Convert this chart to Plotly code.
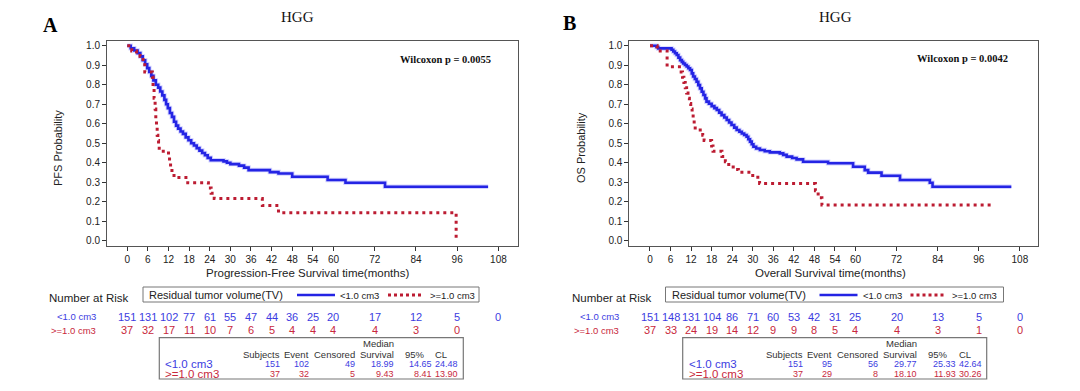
import plotly.graph_objects as go

W, H = 1080, 391

# ---------------- data ----------------
# PFS, residual TV < 1.0 cm3
pfs_lo_t = [0, 1.0, 2.0, 3.0, 3.8, 4.5, 5.2, 5.8, 6.4, 7.0, 7.6, 8.3, 9.0, 9.6, 10.2, 10.8, 11.3, 11.8,
            12.4, 13.0, 13.6, 14.2, 14.8, 15.5, 16.2, 17.0, 17.8, 18.6, 19.4, 20.2, 21.0, 21.8, 22.6,
            23.4, 24.3, 28.0, 29.0, 30.0, 32.5, 34.0, 35.3, 41.5, 44.0, 48.0, 58.3, 63.5, 75.0, 105.0]
pfs_lo_s = [1.0, 0.987, 0.975, 0.962, 0.945, 0.925, 0.905, 0.885, 0.865, 0.845, 0.822, 0.800, 0.785,
            0.765, 0.745, 0.722, 0.700, 0.680, 0.655, 0.635, 0.610, 0.590, 0.575, 0.560, 0.548, 0.530,
            0.515, 0.500, 0.488, 0.475, 0.462, 0.450, 0.438, 0.425, 0.413, 0.407, 0.400, 0.393, 0.385,
            0.375, 0.362, 0.352, 0.345, 0.328, 0.311, 0.297, 0.277, 0.277]
# PFS, residual TV >= 1.0 cm3
pfs_hi_t = [0, 1.3, 2.7, 3.7, 4.6, 5.1, 7.3, 7.5, 7.8, 8.1, 8.3, 8.5, 8.7, 8.9, 9.1, 9.3, 12.0, 12.3,
            12.6, 13.0, 13.6, 17.6, 23.6, 24.4, 25.3, 39.3, 44.0, 95.7]
pfs_hi_s = [1.0, 0.973, 0.959, 0.946, 0.919, 0.865, 0.838, 0.784, 0.730, 0.676, 0.622, 0.595, 0.541,
            0.514, 0.486, 0.459, 0.432, 0.405, 0.378, 0.351, 0.324, 0.297, 0.270, 0.243, 0.216, 0.180,
            0.144, 0.0]
# OS, residual TV < 1.0 cm3
os_lo_t = [0, 1.9, 2.4, 6.3, 6.8, 7.3, 7.8, 8.3, 8.8, 9.3, 9.7, 10.2, 10.7, 11.2, 11.7, 12.2, 12.6, 13.1,
           13.6, 14.1, 14.6, 15.1, 15.6, 16.1, 16.5, 17.2, 18.0, 18.8, 19.5, 20.2, 20.9, 21.7, 22.4, 23.1,
           23.8, 24.6, 25.3, 26.1, 26.8, 27.5, 28.2, 28.7, 29.2, 29.7, 30.2, 31.0, 32.1, 33.5, 35.0, 37.9,
           38.9, 39.9, 41.5, 42.8, 44.7, 52.0, 59.3, 62.7, 63.7, 67.6, 73.0, 81.7, 82.5, 105.5]
os_lo_s = [1.0, 0.993, 0.986, 0.979, 0.970, 0.961, 0.952, 0.939, 0.926, 0.917, 0.909, 0.901, 0.893, 0.884,
           0.875, 0.858, 0.842, 0.829, 0.815, 0.798, 0.781, 0.764, 0.747, 0.730, 0.713, 0.702, 0.690, 0.680,
           0.670, 0.657, 0.644, 0.632, 0.619, 0.606, 0.593, 0.580, 0.568, 0.559, 0.550, 0.542, 0.533, 0.520,
           0.508, 0.495, 0.482, 0.473, 0.465, 0.459, 0.453, 0.448, 0.440, 0.431, 0.424, 0.417, 0.405, 0.397,
           0.379, 0.362, 0.349, 0.333, 0.311, 0.297, 0.277, 0.277]
# OS, residual TV >= 1.0 cm3
os_hi_t = [0, 2.1, 5.0, 9.1, 9.5, 9.9, 10.3, 10.7, 11.1, 11.5, 11.9, 12.3, 12.6, 12.9, 13.2, 15.4, 15.8,
           18.0, 18.4, 21.0, 22.0, 23.0, 24.3, 25.8, 30.0, 32.0, 48.3, 49.1, 50.2, 100.2]
os_hi_s = [1.0, 0.973, 0.892, 0.865, 0.838, 0.811, 0.784, 0.757, 0.730, 0.703, 0.676, 0.649, 0.622, 0.595,
           0.568, 0.541, 0.514, 0.486, 0.459, 0.432, 0.405, 0.378, 0.365, 0.351, 0.325, 0.293, 0.256,
           0.220, 0.183, 0.183]

x_ticks = [0, 6, 12, 18, 24, 30, 36, 42, 48, 54, 60, 72, 84, 96, 108]
y_ticks = [0.0, 0.1, 0.2, 0.3, 0.4, 0.5, 0.6, 0.7, 0.8, 0.9, 1.0]

risk_times = [0, 6, 12, 18, 24, 30, 36, 42, 48, 54, 60, 72, 84, 96, 108]
pfs_risk_lo = [151, 131, 102, 77, 61, 55, 47, 44, 36, 25, 20, 17, 12, 5, 0]
pfs_risk_hi = [37, 32, 17, 11, 10, 7, 6, 5, 4, 4, 4, 4, 3, 0]
os_risk_lo = [151, 148, 131, 104, 86, 71, 60, 53, 42, 31, 25, 20, 13, 5, 0]
os_risk_hi = [37, 33, 24, 19, 14, 12, 9, 9, 8, 5, 4, 4, 3, 1, 0]

group_labels = ["<1.0 cm3", ">=1.0 cm3"]
stat_headers = ["Subjects", "Event", "Censored", "Survival"]
pfs_stats = [["151", "102", "49", "18.99", "14.65", "24.48"],
             ["37", "32", "5", "9.43", "8.41", "13.90"]]
os_stats = [["151", "95", "56", "29.77", "25.33", "42.64"],
            ["37", "29", "8", "18.10", "11.93", "30.26"]]

panel_letters = ["A", "B"]
panel_titles = ["HGG", "HGG"]
p_texts = ["Wilcoxon p = 0.0055", "Wilcoxon p = 0.0042"]
x_titles = ["Progression-Free Survival time(months)", "Overall Survival time(months)"]
y_titles = ["PFS Probability", "OS Probability"]

# ---------------- styling ----------------
BLUE = "rgb(36,36,228)"
HALO = "rgba(130,130,255,0.35)"
RED = "rgb(188,28,50)"
TBLUE = "rgb(60,60,225)"
TRED = "rgb(200,40,60)"
SANS = "Liberation Sans, Arial, sans-serif"
SERIF = "Liberation Serif, Times New Roman, serif"


def fx(px):
    return px / W


def fy(py):
    return 1 - py / H


fig = go.Figure()

curves = [(pfs_lo_t, pfs_lo_s, pfs_hi_t, pfs_hi_s), (os_lo_t, os_lo_s, os_hi_t, os_hi_s)]
for i, (lt, ls, ht, hs) in enumerate(curves):
    xa = "x" if i == 0 else "x2"
    ya = "y" if i == 0 else "y2"
    fig.add_trace(go.Scatter(x=lt, y=ls, mode="lines", line=dict(color=HALO, width=4.5, shape="hv"),
                             xaxis=xa, yaxis=ya, showlegend=False, hoverinfo="skip"))
    fig.add_trace(go.Scatter(x=lt, y=ls, mode="lines", line=dict(color=BLUE, width=2.6, shape="hv"),
                             xaxis=xa, yaxis=ya, showlegend=False, name=group_labels[0]))
    fig.add_trace(go.Scatter(x=ht, y=hs, mode="lines",
                             line=dict(color=RED, width=3, shape="hv", dash="3px,4px"),
                             xaxis=xa, yaxis=ya, showlegend=False, name=group_labels[1]))

axis_common = dict(showgrid=False, zeroline=False, showline=True, linecolor="#555", linewidth=1,
                   mirror=True, ticks="outside", ticklen=4, tickcolor="#333",
                   tickfont=dict(family=SANS, size=10, color="#222"))

fig.update_layout(
    width=W, height=H, autosize=False,
    margin=dict(l=0, r=0, t=0, b=0),
    paper_bgcolor="white", plot_bgcolor="white",
    xaxis=dict(domain=[fx(107), fx(518)], range=[-5.9, 113.7], tickvals=x_ticks, anchor="y", **axis_common),
    yaxis=dict(domain=[fy(246), fy(41)], range=[-0.027, 1.024], tickvals=y_ticks, tickformat=".1f",
               anchor="x", **axis_common),
    xaxis2=dict(domain=[fx(629.3), fx(1037.7)], range=[-6.04, 113.2], tickvals=x_ticks, anchor="y2",
                **axis_common),
    yaxis2=dict(domain=[fy(246), fy(41)], range=[-0.027, 1.024], tickvals=y_ticks, tickformat=".1f",
                anchor="x2", **axis_common),
)

anns = []
shapes = []


def ann(text, x, y, size, color="#111", xanchor="center", family=SANS, xref="paper", textangle=0):
    anns.append(dict(text=text, x=x, y=y, xref=xref, yref="paper", xanchor=xanchor, yanchor="middle",
                     showarrow=False, textangle=textangle,
                     font=dict(family=family, size=size, color=color)))


risks = [(pfs_risk_lo, pfs_risk_hi), (os_risk_lo, os_risk_hi)]
stats = [pfs_stats, os_stats]
offs = [0, 522.5]
for i in range(2):
    o = offs[i]
    xref = "x" if i == 0 else "x2"
    # titles
    ann("<b>" + panel_letters[i] + "</b>", fx(50 + 519 * i), fy(25 - 1.5 * i), 20, "#000", family=SERIF)
    ann(panel_titles[i], fx(297 + 538 * i), fy(17), 15, "#111", family=SERIF)
    ann("<b>" + p_texts[i] + "</b>", fx(493 + 517 * i), fy(60 - 2 * i), 10.5, "#111", "right", SERIF)
    ann(x_titles[i], fx(307 + 523 * i), fy(273), 11.5, "#222")
    ann(y_titles[i], fx(58 + 523 * i), fy(148), 11, "#222", textangle=-90)
    # number at risk
    ann("Number at Risk", fx(47 + o), fy(298.3), 11.5, "#222", "left")
    shapes.append(dict(type="rect", xref="paper", yref="paper", x0=fx(143 + o), x1=fx(479 + o + 2 * i),
                       y0=fy(302), y1=fy(287), line=dict(color="#777", width=1)))
    ann("Residual tumor volume(TV)", fx(147 + o), fy(295), 11, "#222", "left")
    shapes.append(dict(type="line", xref="paper", yref="paper", x0=fx(297 + o), x1=fx(335 + o),
                       y0=fy(295), y1=fy(295), line=dict(color=BLUE, width=2.6)))
    ann(group_labels[0], fx(338 + o), fy(295), 9.5, "#222", "left")
    shapes.append(dict(type="line", xref="paper", yref="paper", x0=fx(388 + o), x1=fx(421 + o),
                       y0=fy(295), y1=fy(295), line=dict(color=RED, width=3, dash="3px,3px")))
    ann(group_labels[1], fx(428 + o), fy(295), 9.5, "#222", "left")
    # risk labels
    ann(group_labels[0], fx(98 + o), fy(316.7), 9.5, TBLUE, "right")
    ann(group_labels[1], fx(98 + o), fy(330), 9.5, TRED, "right")
    lo, hi = risks[i]
    for t, v in zip(risk_times, lo):
        ann(str(v), t, fy(316.7), 11, TBLUE, "center", xref=xref)
    for t, v in zip(risk_times, hi):
        ann(str(v), t, fy(330), 11, TRED, "center", xref=xref)
    # stats table
    bl = 159.3 + 523.4 * i
    shapes.append(dict(type="rect", xref="paper", yref="paper", x0=fx(bl), x1=fx(bl + 304),
                       y0=fy(379), y1=fy(337.7), line=dict(color="#777", width=1.2)))
    cols = [122.4, 151.4, 197.4, 236.7, 275.0, 301.0]
    ann("Median", fx(bl + cols[3]), fy(343.3), 9.5, "#333", "right")
    for c, h in zip(cols[:4], stat_headers):
        ann(h, fx(bl + c), fy(354), 9.5, "#333", "right")
    ann("95%", fx(bl + 267.4), fy(354), 9.5, "#333", "right")
    ann("CL", fx(bl + 274), fy(354), 9.5, "#333", "left")
    rows_y = [363.6, 374.3]
    rcol = [TBLUE, TRED]
    for r in range(2):
        ann(group_labels[r], fx(bl + 4), fy(rows_y[r]), 11.5, rcol[r], "left")
        for c, v in zip(cols, stats[i][r]):
            ann(v, fx(bl + c), fy(rows_y[r]), 9, rcol[r], "right")

fig.update_layout(annotations=anns, shapes=shapes)
fig.write_html("out.html", config={"displayModeBar": False},
               post_script="document.body.style.margin='0';document.body.style.overflow='hidden';")
